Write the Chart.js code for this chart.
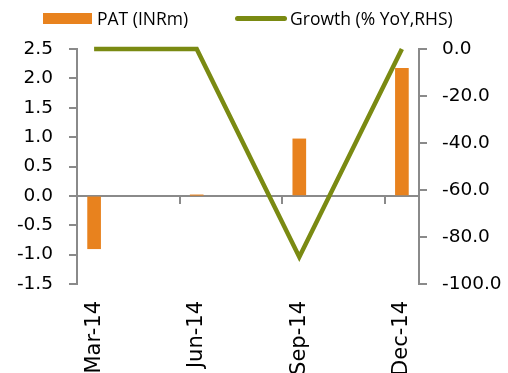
<!DOCTYPE html>
<html>
<head>
<meta charset="utf-8">
<script src="https://cdn.jsdelivr.net/npm/chart.js@4.4.1/dist/chart.umd.min.js"></script>
<style>
  html, body { margin: 0; padding: 0; background: #fff; }
  #wrap { position: relative; width: 508px; height: 373px; overflow: hidden; }
  #legend {
    position: absolute; top: 6px; left: 0; width: 508px; height: 24px;
    font: 17.5px 'Open Sans', sans-serif; line-height: 24px; color: #000;
  }
  #legend .item { position: absolute; top: 0; display: flex; align-items: center; white-space: nowrap; }
  #legend .swatch { flex: none; display: block; width: 49px; margin-right: 5px; }
  #legend .swatch.line { width: 52px; margin-right: 3px; }
</style>
</head>
<body>
<div id="wrap">
  <div id="legend"></div>
  <canvas id="patChart"></canvas>
</div>
<script>
    const categories = ['Mar-14', 'Jun-14', 'Sep-14', 'Dec-14'];
    const monthIndex = [0, 3, 6, 9];          // months since Mar-14
    const patValues = [-0.9, 0.01, 0.97, 2.17];
    const growthValues = [0, 0, -88.5, 0];

    const barColor = '#e8821e';
    const lineColor = '#7a8a12';
    const axisGrey = '#8a8a8a';
    const axisFont = "'DejaVu Sans', sans-serif";

    Chart.defaults.font.family = axisFont;
    Chart.defaults.color = '#000';

    // little tick marks hanging under the zero line, at the start of each quarter
    const quarterTicks = {
      id: 'quarterTicks',
      afterDraw(chart) {
        const xs = chart.scales.x;
        const y0 = chart.scales.y.getPixelForValue(0);
        const ctx = chart.ctx;
        ctx.save();
        ctx.strokeStyle = axisGrey;
        ctx.lineWidth = 2;
        monthIndex.forEach(m => {
          const px = Math.round(xs.getPixelForValue(m - 0.5));
          ctx.beginPath();
          ctx.moveTo(px, y0);
          ctx.lineTo(px, y0 + 8);
          ctx.stroke();
        });
        ctx.restore();
      }
    };

    const ctx = document.getElementById('patChart').getContext('2d');
    const chart = new Chart(ctx, {
      type: 'bar',
      data: {
        datasets: [
          {
            type: 'bar',
            label: 'PAT (INRm)',
            data: monthIndex.map((m, i) => ({ x: m, y: patValues[i] })),
            backgroundColor: barColor,
            borderWidth: 0,
            barThickness: 13,
            yAxisID: 'y'
          },
          {
            type: 'line',
            label: 'Growth (% YoY,RHS)',
            data: monthIndex.map((m, i) => ({ x: m, y: growthValues[i] })),
            borderColor: lineColor,
            backgroundColor: lineColor,
            borderWidth: 4.5,
            pointRadius: 0,
            tension: 0,
            clip: false,
            yAxisID: 'y1'
          }
        ]
      },
      options: {
        responsive: true,
        maintainAspectRatio: false,
        animation: false,
        layout: { padding: { top: 49, left: 0, right: 0, bottom: 0 } },
        scales: {
          x: {
            type: 'linear',
            offset: false,
            min: -0.5,
            max: 9.5,
            grid: { display: false, drawTicks: false },
            border: { display: false },
            afterBuildTicks: scale => {
              scale.ticks = monthIndex.map(m => ({ value: m }));
            },
            afterFit: scale => { scale.height = 89; },
            ticks: {
              autoSkip: false,
              minRotation: 90,
              maxRotation: 90,
              padding: 17,
              font: { size: 21 },
              callback: value => categories[monthIndex.indexOf(value)]
            }
          },
          y: {
            position: 'left',
            min: -1.5,
            max: 2.5,
            afterFit: scale => { scale.width = 77; },
            ticks: {
              stepSize: 0.5,
              padding: 16,
              font: { size: 18.5 },
              callback: v => v.toFixed(1)
            },
            grid: {
              drawOnChartArea: true,
              color: c => (c.tick && c.tick.value === 0 ? axisGrey : 'rgba(0,0,0,0)'),
              lineWidth: 2,
              tickColor: axisGrey,
              tickLength: 8
            },
            border: { display: true, color: axisGrey, width: 2 }
          },
          y1: {
            position: 'right',
            min: -100,
            max: 0,
            afterFit: scale => { scale.width = 89; },
            ticks: {
              stepSize: 20,
              padding: 15,
              font: { size: 18.5 },
              callback: v => v.toFixed(1)
            },
            grid: {
              drawOnChartArea: false,
              tickColor: axisGrey,
              lineWidth: 2,
              tickLength: 8
            },
            border: { display: true, color: axisGrey, width: 2 }
          }
        },
        plugins: {
          legend: { display: false },
          tooltip: { enabled: false }
        }
      },
      plugins: [quarterTicks]
    });

    // html legend built from the chart's datasets
    const legendLeft = [43, 235];
    function buildLegend() {
      const box = document.getElementById('legend');
      box.innerHTML = '';
      chart.data.datasets.forEach((ds, i) => {
        const item = document.createElement('div');
        item.className = 'item';
        item.style.left = legendLeft[i] + 'px';
        const sw = document.createElement('span');
        sw.className = 'swatch';
        if (ds.type === 'line') {
          sw.classList.add('line');
          sw.style.height = '5px';
          sw.style.borderRadius = '3px';
          sw.style.background = ds.borderColor;
        } else {
          sw.style.height = '11px';
          sw.style.background = ds.backgroundColor;
        }
        const txt = document.createElement('span');
        txt.textContent = ds.label;
        item.appendChild(sw);
        item.appendChild(txt);
        box.appendChild(item);
      });
    }
    buildLegend();
</script>
</body>
</html>
